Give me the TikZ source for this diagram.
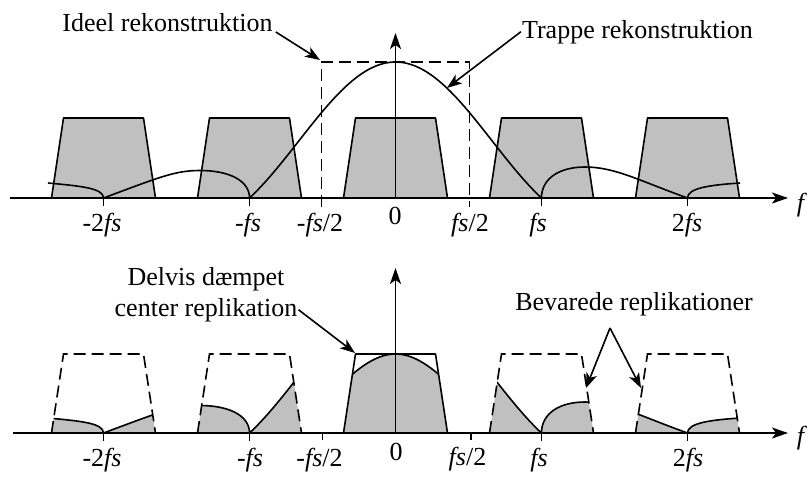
\documentclass[tikz,border=0pt]{standalone}
\usepackage{fontspec}
\setmainfont{Liberation Serif}
\usetikzlibrary{arrows.meta}
\definecolor{boxgray}{RGB}{192,192,192}
\begin{document}
\begin{tikzpicture}[x=1pt,y=-1pt,
  declare function={snc(\t)=abs(sin(180*\t))/(pi*abs(\t));},
  every node/.style={font=\fontsize{26}{31}\selectfont, inner sep=0pt},
  lbl/.style={anchor=base},
  axisline/.style={line width=1.7pt,-{Stealth[length=16pt,width=11pt,inset=4pt]}},
  thinline/.style={line width=1.6pt,line join=round},
  dashline/.style={line width=1.6pt,dash pattern=on 12pt off 6pt},
  trapfill/.style={fill=boxgray,draw=black,line width=1.6pt,line join=round},
  callout/.style={line width=1.6pt,-{Stealth[length=15pt,width=11pt,inset=4pt]}},
]
\useasboundingbox (0,0) rectangle (811,477);
\def\topcurve{(48,183) .. controls (80,186) and (103.5,188) .. (103.5,198)
 .. controls (160,177) and (175,170.5) .. (200,170.5)
 .. controls (228,170.5) and (249.5,180) .. (249.5,198)
 -- plot[domain=249.5:541.5,samples=100] (\x,{198-136*snc((\x-395.5)/146)})
 .. controls (541.5,178) and (560,167) .. (585,167)
 .. controls (615,167) and (640,181) .. (687.5,198)
 .. controls (687.5,188) and (710,185) .. (740,183)}

% ===== top panel =====
\foreach \k in {-2,...,2}{
  \pgfmathsetmacro\cc{395.5+\k*146}
  \filldraw[trapfill] (\cc-52,198) -- (\cc-40,118) -- (\cc+40,118) -- (\cc+52,198);
}
\draw[axisline] (10,198) -- (788,198);
\draw[axisline] (395.5,198) -- (395.5,33);
\foreach \k in {-2,-1,1,2}
  \draw[thinline] (395.5+\k*146,198) -- (395.5+\k*146,206);
\draw[thinline] \topcurve;
\draw[dashline] (321.5,207) -- (321.5,62) -- (469.5,62) -- (469.5,207);

\node[lbl] (tm2) at (102,231) {-2\textit{fs}};
\node[lbl] (tm1) at (248,231) {-\textit{fs}};
\node[lbl] (tmh) at (320,231) {-\textit{fs}/2};
\node[lbl] (t0) at (395,224) {0};
\node[lbl] (tph) at (470,231) {\textit{fs}/2};
\node[lbl] (tp1) at (538,231) {\textit{fs}};
\node[lbl] (tp2) at (687,231) {2\textit{fs}};
\node[lbl] (tf) at (802,211) {\textit{f}};

\node[lbl] (ideel) at (167.5,31.5) {Ideel rekonstruktion};
\coordinate (idealcorner) at (320,60);
\draw[callout] ([xshift=3pt]ideel.south east) -- (idealcorner);
\node[lbl] (trappe) at (637.5,38) {Trappe rekonstruktion};
\coordinate (trapcurve) at (447,88);
\draw[callout] ([xshift=-1pt]trappe.west) -- (trapcurve);

% ===== bottom panel =====
\foreach \k in {-2,-1,1,2}{
  \pgfmathsetmacro\cc{395.5+\k*146}
  \begin{scope}
    \clip (\cc-52,433) -- (\cc-40,354) -- (\cc+40,354) -- (\cc+52,433) -- cycle;
    \begin{scope}[shift={(0,235)}]
      \fill[boxgray] \topcurve -- (740,198) -- (48,198) -- cycle;
      \draw[thinline] \topcurve;
    \end{scope}
  \end{scope}
  \draw[dashline] (\cc-52,433) -- (\cc-40,354) -- (\cc+40,354) -- (\cc+52,433);
}
\begin{scope}
  \clip (343.5,433) -- (355.5,354) -- (435.5,354) -- (447.5,433) -- cycle;
  \fill[boxgray] (343.5,433) -- plot[domain=343.5:447.5,samples=100]
     (\x,{433-79*snc((\x-395.5)/146)*snc((\x-395.5)/146)}) -- (447.5,433) -- cycle;
  \draw[thinline] plot[domain=343.5:447.5,samples=100]
     (\x,{433-79*snc((\x-395.5)/146)*snc((\x-395.5)/146)});
\end{scope}
\draw[thinline] (343.5,433) -- (355.5,354) -- (435.5,354) -- (447.5,433);

\draw[axisline] (13,433) -- (788,433);
\draw[axisline] (395.5,433) -- (395.5,268);
\foreach \k in {-2,-1,1,2}
  \draw[thinline] (395.5+\k*146,433) -- (395.5+\k*146,441);
\draw[thinline] (322.5,433) -- (322.5,440);
\draw[thinline] (471,433) -- (471,440);

\node[lbl] (bm2) at (102,466) {-2\textit{fs}};
\node[lbl] (bm1) at (250,466) {-\textit{fs}};
\node[lbl] (bmh) at (319.5,466) {-\textit{fs}/2};
\node[lbl] (b0) at (396,460) {0};
\node[lbl] (bph) at (467.5,465) {\textit{fs}/2};
\node[lbl] (bp1) at (539,466) {\textit{fs}};
\node[lbl] (bp2) at (688,466) {2\textit{fs}};
\node[lbl] (bf) at (802,444) {\textit{f}};

\node[lbl] (delvisA) at (206,285) {Delvis dæmpet};
\node[lbl] (delvisB) at (206,316) {center replikation};
\coordinate (centercorner) at (355,353);
\draw[callout] ([xshift=1pt]delvisB.east) -- (centercorner);

\node[lbl] (bevarede) at (634,310) {Bevarede replikationer};
\coordinate (bevfork) at (610,328);
\coordinate (keepA) at (586,388);
\coordinate (keepB) at (641,388);
\draw[callout] (bevfork) -- (keepA);
\draw[callout] (bevfork) -- (keepB);
\end{tikzpicture}
\end{document}
